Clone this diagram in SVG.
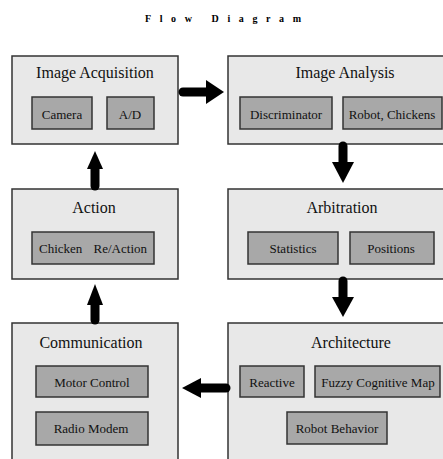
<svg xmlns="http://www.w3.org/2000/svg" width="443" height="459" viewBox="0 0 443 459">
<style>
.outer{fill:#e8e8e8;stroke:#333;stroke-width:1.5}
.sub{fill:#a8a8a8;stroke:#333;stroke-width:1.5}
.t{font-family:'Liberation Serif','DejaVu Serif',serif;font-size:16px;fill:#111;text-anchor:middle}
.s{font-family:'Liberation Serif','DejaVu Serif',serif;font-size:13px;fill:#111;text-anchor:middle}
.ttl{font-family:'Liberation Serif','DejaVu Serif',serif;font-size:10px;font-weight:bold;fill:#000;letter-spacing:8.6px}
.shaft{stroke:#000;stroke-width:9;stroke-linecap:round;fill:none}
.head{fill:#000}
</style>
<rect width="443" height="459" fill="#fff"/>
<text class="ttl" x="145" y="22">Flow Diagram</text>

<g id="image-acquisition">
<rect class="outer" x="12" y="56" width="166" height="88"/>
<text class="t" x="95" y="78">Image Acquisition</text>
<rect class="sub" x="32" y="97" width="60" height="32"/>
<text class="s" x="62" y="119">Camera</text>
<rect class="sub" x="107" y="97" width="47" height="32"/>
<text class="s" x="130" y="119">A/D</text>
</g>

<g id="image-analysis">
<rect class="outer" x="228" y="56" width="222" height="88"/>
<text class="t" x="345" y="78">Image Analysis</text>
<rect class="sub" x="240" y="97" width="92" height="32"/>
<text class="s" x="286" y="119">Discriminator</text>
<rect class="sub" x="343" y="97" width="99" height="32"/>
<text class="s" x="392" y="119">Robot, Chickens</text>
</g>

<g id="action">
<rect class="outer" x="12" y="189" width="166" height="90"/>
<text class="t" x="94" y="213">Action</text>
<rect class="sub" x="32" y="232" width="122" height="32"/>
<text class="s" x="93" y="253" word-spacing="8">Chicken Re/Action</text>
</g>

<g id="arbitration">
<rect class="outer" x="228" y="189" width="222" height="90"/>
<text class="t" x="342" y="213">Arbitration</text>
<rect class="sub" x="248" y="232" width="90" height="32"/>
<text class="s" x="293" y="253">Statistics</text>
<rect class="sub" x="350" y="232" width="84" height="32"/>
<text class="s" x="391" y="253">Positions</text>
</g>

<g id="communication">
<rect class="outer" x="12" y="323" width="166" height="140"/>
<text class="t" x="91" y="348">Communication</text>
<rect class="sub" x="36" y="366" width="112" height="31"/>
<text class="s" x="92" y="387">Motor Control</text>
<rect class="sub" x="36" y="412" width="112" height="33"/>
<text class="s" x="91" y="433">Radio Modem</text>
</g>

<g id="architecture">
<rect class="outer" x="228" y="323" width="222" height="140"/>
<text class="t" x="351" y="348">Architecture</text>
<rect class="sub" x="240" y="366" width="64" height="31"/>
<text class="s" x="272" y="387">Reactive</text>
<rect class="sub" x="315" y="366" width="125" height="31"/>
<text class="s" x="378" y="387">Fuzzy Cognitive Map</text>
<rect class="sub" x="287" y="412" width="100" height="32"/>
<text class="s" x="337" y="433">Robot Behavior</text>
</g>

<g id="connectors">
<line class="shaft" x1="183" y1="92" x2="208" y2="92"/>
<polygon class="head" points="206,80 224,92 206,104"/>
<line class="shaft" x1="343" y1="146" x2="343" y2="164"/>
<polygon class="head" points="332,162 354,162 343,183"/>
<line class="shaft" x1="343" y1="281" x2="343" y2="299"/>
<polygon class="head" points="332,297 354,297 343,317"/>
<line class="shaft" x1="226" y1="388" x2="199" y2="388"/>
<polygon class="head" points="201,378 201,398 182,388"/>
<line class="shaft" x1="95" y1="320" x2="95" y2="303"/>
<polygon class="head" points="87,305 103,305 95,284"/>
<line class="shaft" x1="95" y1="186" x2="95" y2="167"/>
<polygon class="head" points="87,169 103,169 95,151"/>
</g>
</svg>
